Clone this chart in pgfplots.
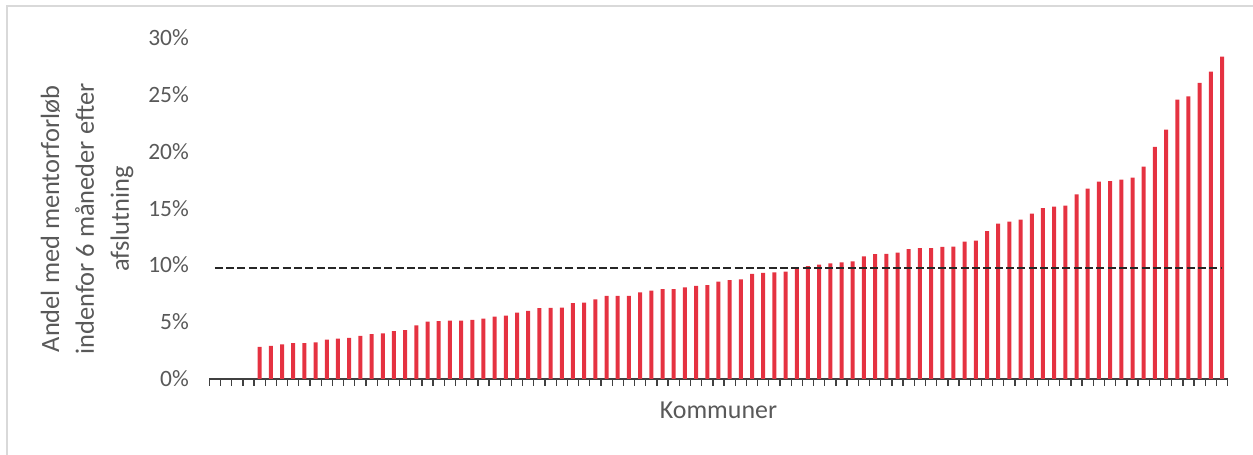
\documentclass[border=0pt]{standalone}
\usepackage{pgfplots}
\pgfplotsset{compat=1.18}
\usepackage{pgfplotstable}
\usepackage{fontspec}
\setmainfont{Carlito}
\definecolor{barred}{RGB}{229,50,65}
\definecolor{axgray}{RGB}{64,64,64}
\definecolor{txtgray}{RGB}{89,89,89}
\definecolor{framegray}{RGB}{217,217,217}
\definecolor{meanline}{RGB}{38,38,38}

\pgfplotstableread{
x y
5 2.81
6 2.90
7 3.04
8 3.16
9 3.16
10 3.22
11 3.45
12 3.54
13 3.60
14 3.78
15 3.95
16 4.01
17 4.21
18 4.30
19 4.71
20 5.03
21 5.09
22 5.12
23 5.12
24 5.18
25 5.30
26 5.47
27 5.56
28 5.82
29 5.97
30 6.22
31 6.24
32 6.26
33 6.67
34 6.70
35 7.00
36 7.29
37 7.29
38 7.29
39 7.61
40 7.76
41 7.90
42 7.90
43 8.05
44 8.17
45 8.25
46 8.54
47 8.67
48 8.75
49 9.22
50 9.31
51 9.37
52 9.42
53 9.80
54 9.92
55 10.04
56 10.15
57 10.24
58 10.33
59 10.77
60 10.97
61 10.99
62 11.09
63 11.41
64 11.50
65 11.50
66 11.59
67 11.62
68 12.06
69 12.15
70 12.99
71 13.64
72 13.81
73 13.99
74 14.52
75 15.01
76 15.13
77 15.22
78 16.21
79 16.71
80 17.33
81 17.38
82 17.50
83 17.68
84 18.64
85 20.37
86 21.89
87 24.52
88 24.82
89 25.99
90 26.98
91 28.30
}\datatable

\begin{document}
\begin{tikzpicture}[x=1bp,y=1bp]
\useasboundingbox (0,0) rectangle (1253,455);
\draw[framegray, line width=1.5bp] (7,0) -- (7,449) -- (1253,449);
\begin{axis}[
  at={(209.3bp,76bp)}, anchor=south west,
  scale only axis, width=1018.4bp, height=341.7bp,
  xmin=0.5, xmax=91.5, ymin=0, ymax=30,
  axis x line*=bottom, axis y line*=left,
  y axis line style={draw=none},
  x axis line style={draw=axgray, line width=1.5bp},
  xtick={0.5,1.5,...,91.5}, xticklabels={},
  xtick style={draw=axgray, line width=1.3bp},
  tick align=outside, major tick length=7bp,
  ytick={0,5,10,15,20,25,30},
  yticklabels={0\%,5\%,10\%,15\%,20\%,25\%,30\%},
  ytick style={draw=none},
  yticklabel style={font=\fontsize{23.5}{28}\selectfont, text=txtgray, anchor=east, xshift=-10bp},
  clip=false,
]
\addplot[ybar, bar width=4bp, fill=barred, draw=none] table[x=x,y=y]{\datatable};
\addplot[meanline, line width=2bp, dash pattern=on 8bp off 3.3bp] coordinates {(1,9.72) (91,9.72)};
\node[font=\fontsize{26}{30}\selectfont, text=txtgray] at (axis description cs:0.5,0) [yshift=-31bp] {Kommuner};
\end{axis}
\node[rotate=90, align=center, font=\fontsize{26.5}{35}\selectfont, text=txtgray] at (87,236) {Andel med mentorforløb\\indenfor 6 måneder efter\\afslutning};
\end{tikzpicture}
\end{document}
